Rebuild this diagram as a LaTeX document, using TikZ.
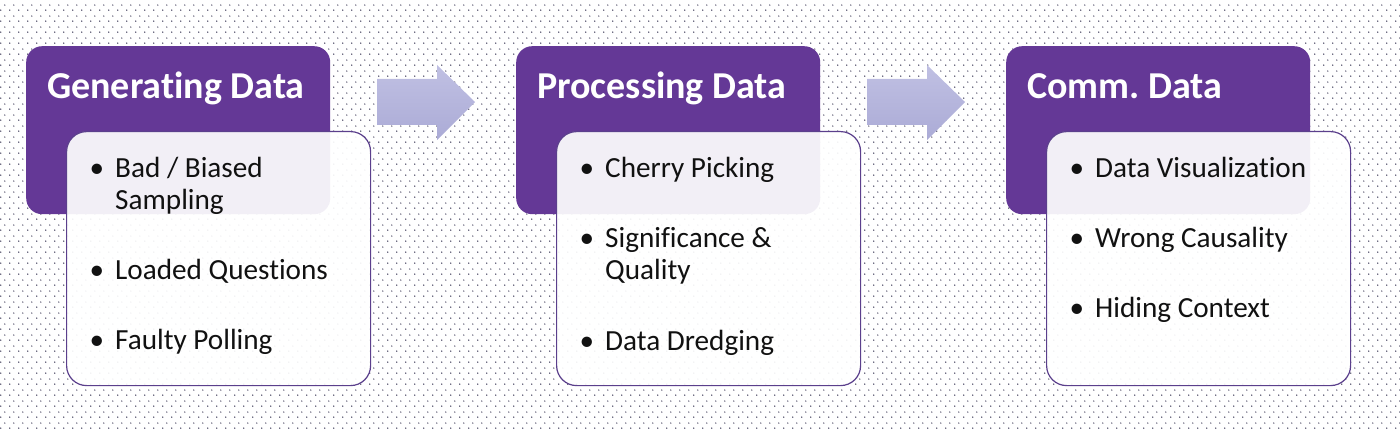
\documentclass[tikz,border=0pt]{standalone}
\usepackage{fontspec}
\setmainfont{Carlito}[Ligatures={NoCommon}]
\usetikzlibrary{patterns}
\frenchspacing
\definecolor{pur}{HTML}{643896}
\definecolor{edge}{HTML}{5B3F8C}
\definecolor{ink}{HTML}{111111}
\definecolor{dotc}{HTML}{3E3A58}
\definecolor{arrtop}{HTML}{C0C0E3}
\definecolor{arrbot}{HTML}{ABABD6}
\pgfdeclarepatternformonly{bgdots}{\pgfqpoint{0pt}{0pt}}{\pgfqpoint{9pt}{11pt}}{\pgfqpoint{9pt}{11pt}}{%
  \pgfpathcircle{\pgfqpoint{2pt}{2pt}}{0.8pt}%
  \pgfpathcircle{\pgfqpoint{6.5pt}{7.5pt}}{0.8pt}%
  \pgfusepath{fill}}
\begin{document}
\begin{tikzpicture}[x=1pt,y=-1pt,
  hdr/.style={fill=pur, draw=none, rounded corners=16pt, minimum width=304pt, minimum height=168pt, anchor=north west, inner sep=0pt},
  bodybox/.style={fill=white, fill opacity=0.92, draw=edge, line width=1.2pt, rounded corners=20pt, minimum width=304pt, minimum height=254pt, anchor=north west, inner sep=0pt},
  htext/.style={anchor=base west, text=white, font=\fontsize{38}{42}\selectfont\bfseries, inner sep=0pt},
  itext/.style={anchor=base west, text=ink, font=\fontsize{29.2}{33}\selectfont, inner sep=0pt},
  bul/.style={anchor=base, text=ink, font=\fontsize{29.2}{33}\selectfont, inner sep=0pt},
  flow/.style={top color=arrtop, bottom color=arrbot, draw=none}]
\useasboundingbox (0,0) rectangle (1400,430);
\fill[pattern=bgdots, pattern color=dotc] (0,0) rectangle (1400,430);

% group 1
\node[hdr] (h1) at (26,46) {};
\node[htext] (t1) at (47,99) {Generating Data};
\node[bodybox] (b1) at (66,131) {};
\node[bul] (u11) at (97,178) {•};
\node[itext] (i11) at (115,178) {Bad / Biased};
\node[itext] (i11b) at (115,210) {Sampling};
\node[bul] (u12) at (97,280) {•};
\node[itext] (i12) at (115,280) {Loaded Questions};
\node[bul] (u13) at (97,349) {•};
\node[itext] (i13) at (115,349) {Faulty Polling};

% group 2
\node[hdr] (h2) at (516,46) {};
\node[htext] (t2) at (537,99) {Processing Data};
\node[bodybox] (b2) at (556,131) {};
\node[bul] (u21) at (587,178) {•};
\node[itext] (i21) at (605,178) {Cherry Picking};
\node[bul] (u22) at (587,248) {•};
\node[itext] (i22) at (605,248) {Significance \&};
\node[itext] (i22b) at (605,280) {Quality};
\node[bul] (u23) at (587,350) {•};
\node[itext] (i23) at (605,350) {Data Dredging};

% group 3
\node[hdr] (h3) at (1006,46) {};
\node[htext] (t3) at (1027,99) {Comm.\ Data};
\node[bodybox] (b3) at (1046,131) {};
\node[bul] (u31) at (1077,178) {•};
\node[itext] (i31) at (1095,178) {Data Visualization};
\node[bul] (u32) at (1077,248) {•};
\node[itext] (i32) at (1095,248) {Wrong Causality};
\node[bul] (u33) at (1077,318) {•};
\node[itext] (i33) at (1095,318) {Hiding Context};

% arrows
\shade[flow] (377,79) -- (437,79) -- (437,65) -- (475,102) -- (437,140) -- (437,125) -- (377,125) -- cycle;
\shade[flow] (867,79) -- (927,79) -- (927,65) -- (965,102) -- (927,140) -- (927,125) -- (867,125) -- cycle;
\end{tikzpicture}
\end{document}
